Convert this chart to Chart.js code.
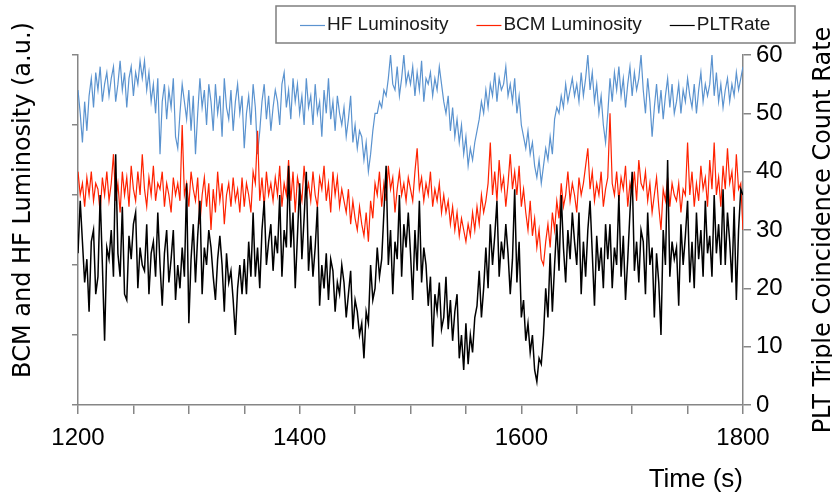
<!DOCTYPE html>
<html>
<head>
<meta charset="utf-8">
<script src="https://cdn.jsdelivr.net/npm/chart.js@4.4.0/dist/chart.umd.min.js"></script>
<style>
  html, body { margin: 0; padding: 0; background: #fff; }
  #wrap { width: 832px; height: 495px; }
</style>
</head>
<body>
<div id="wrap"><canvas id="lumiChart"></canvas></div>
<script>
// one sample every 2 s, from 1200 s to 1800 s
const startTime = 1200;
const stepTime = 2;

const hfLumi = [
  54, 50, 45, 52, 47, 53, 56, 51, 57, 54, 58, 52, 55, 57, 53,
  56, 58, 52, 55, 59, 54, 57, 51, 56, 58, 53, 57, 55, 59, 56,
  59, 54, 57, 52, 55, 50, 56, 43, 52, 55, 49, 54, 51, 56, 46,
  44, 50, 55, 52, 49, 54, 47, 53, 43, 50, 56, 51, 54, 48, 55,
  52, 47, 55, 50, 53, 46, 56, 51, 49, 54, 47, 52, 55, 50, 53,
  44, 50, 53, 48, 55, 51, 43, 47, 52, 55, 49, 53, 47, 51, 54,
  52, 48, 55, 57, 51, 54, 49, 56, 52, 55, 50, 53, 48, 56, 51,
  53, 48, 55, 50, 52, 46, 54, 50, 56, 49, 52, 47, 53, 50, 48,
  51, 46, 49, 53, 45, 48, 44, 47, 46, 42, 45, 40, 43, 47, 50,
  50, 52, 51, 54, 53, 56, 60, 55, 54, 58, 53, 56, 60, 55, 57,
  55, 58, 53, 57, 54, 59, 52, 56, 55, 57, 53, 56, 54, 58, 55,
  52, 50, 53, 47, 51, 46, 49, 45, 48, 43, 46, 41, 44, 42, 45,
  47, 49, 52, 50, 54, 51, 55, 53, 57, 52, 56, 54, 55, 58, 53,
  55, 52, 56, 50, 53, 48, 46, 44, 47, 43, 45, 41, 39, 42, 38,
  41, 44, 42, 46, 43, 49, 51, 50, 53, 51, 55, 52, 54, 56, 53,
  55, 52, 57, 53, 56, 60, 54, 57, 52, 55, 50, 53, 48, 45, 50,
  56, 52, 57, 54, 58, 53, 56, 51, 55, 58, 53, 57, 54, 56, 60,
  54, 50, 56, 52, 46, 51, 55, 50, 54, 49, 53, 56, 51, 55, 50,
  52, 55, 50, 54, 52, 56, 53, 51, 55, 50, 54, 57, 52, 55, 53,
  55, 60, 53, 57, 52, 55, 51, 54, 56, 52, 55, 53, 57, 54, 56,
  58
];

const bcmLumi = [
  40, 36, 38, 34, 39, 36, 40, 35, 38, 37, 33, 39, 36, 40, 35,
  38, 43, 35, 38, 33, 40, 36, 39, 34, 41, 37, 35, 40, 36, 43,
  37, 34, 39, 36, 41, 35, 38, 37, 40, 34, 38, 36, 33, 39, 36,
  38, 35, 48, 36, 38, 34, 40, 37, 35, 39, 31, 36, 39, 34, 38,
  30, 37, 33, 40, 35, 38, 31, 36, 38, 34, 39, 35, 37, 33, 39,
  34, 38, 36, 33, 40, 38, 47, 35, 39, 34, 40, 36, 38, 35, 39,
  36, 41, 34, 38, 36, 42, 35, 40, 33, 39, 37, 35, 41, 36, 38,
  35, 40, 36, 34, 39, 37, 41, 35, 38, 33, 40, 36, 39, 34, 37,
  35, 33, 37, 31, 35, 32, 30, 34, 31, 29, 33, 28, 35, 32, 38,
  36, 40, 34, 38, 35, 41, 37, 39, 33, 37, 40, 36, 38, 35, 39,
  37, 35, 40, 44, 37, 39, 35, 38, 36, 40, 34, 37, 35, 38, 33,
  36, 33, 35, 31, 34, 30, 33, 29, 32, 30, 28, 31, 29, 33, 30,
  34, 31, 36, 33, 35, 38, 45, 36, 40, 35, 42, 37, 39, 34, 38,
  43, 37, 40, 36, 41, 34, 37, 33, 30, 35, 29, 32, 27, 30, 25,
  24, 28, 31, 27, 33, 30, 35, 32, 38, 34, 36, 40, 35, 38, 36,
  33, 39, 36, 38, 41, 44, 37, 40, 35, 38, 36, 40, 34, 37, 39,
  50, 38, 36, 40, 35, 39, 37, 41, 34, 38, 36, 40, 35, 42, 38,
  37, 40, 35, 38, 33, 36, 39, 34, 30, 37, 35, 39, 34, 38, 36,
  35, 38, 33, 37, 36, 45, 36, 40, 34, 38, 35, 41, 37, 39, 34,
  42, 37, 45, 36, 39, 34, 41, 37, 44, 38, 40, 35, 43, 37, 38,
  30
];

const pltRate = [
  26, 35, 28, 21, 25, 16, 28, 30, 19, 22, 36, 24, 11, 27, 25,
  30, 22, 43, 26, 22, 34, 19, 18, 29, 25, 31, 33, 20, 27, 24,
  23, 31, 19, 26, 28, 22, 33, 24, 17, 26, 30, 21, 25, 30, 18,
  24, 20, 27, 22, 38, 14, 25, 31, 21, 29, 35, 19, 27, 24, 30,
  27, 22, 18, 25, 29, 24, 16, 26, 21, 23, 18, 12, 20, 24, 19,
  25, 19, 28, 22, 33, 22, 27, 20, 30, 35, 24, 28, 31, 23, 29,
  26, 36, 22, 30, 27, 41, 27, 33, 20, 29, 38, 25, 32, 40, 23,
  29, 22, 27, 34, 17, 24, 20, 26, 18, 25, 23, 16, 21, 19, 24,
  21, 15, 19, 23, 13, 18, 16, 12, 14, 8, 16, 14, 24, 18, 20,
  27, 22, 25, 33, 41, 24, 30, 19, 28, 25, 36, 22, 31, 27, 33,
  26, 18, 30, 23, 35, 21, 27, 24, 17, 22, 10, 19, 16, 21, 13,
  15, 22, 13, 18, 11, 16, 19, 8, 12, 6, 14, 7, 12, 9, 15,
  17, 23, 15, 20, 27, 20, 31, 24, 29, 35, 22, 28, 25, 31, 26,
  19, 25, 37, 21, 28, 15, 18, 11, 14, 9, 12, 6, 4, 8, 7,
  12, 20, 15, 26, 16, 24, 31, 23, 36, 27, 21, 30, 25, 33, 28,
  24, 33, 19, 28, 22, 30, 35, 26, 17, 29, 23, 27, 20, 31, 25,
  31, 20, 27, 24, 36, 22, 29, 18, 25, 33, 40, 23, 28, 21, 30,
  28, 19, 33, 24, 27, 15, 26, 21, 12, 30, 24, 42, 22, 28, 25,
  27, 17, 31, 24, 29, 35, 21, 28, 20, 33, 25, 30, 22, 35, 26,
  29, 22, 36, 26, 31, 24, 37, 24, 33, 28, 21, 34, 18, 30, 37,
  36
];

const timeLabels = [1200, 1400, 1600, 1800];

const times = hfLumi.map((_, i) => startTime + i * stepTime);
const toPoints = (values) => values.map((v, i) => ({ x: times[i], y: v }));

const axisGray = '#868686';
const labelFont = '"Liberation Sans", Arial, sans-serif';

// the two side titles both read bottom-to-top in the original
const axisTitles = {
    id: 'axisTitles',
    afterDraw(chart) {
        const ctx = chart.ctx;
        const area = chart.chartArea;
        ctx.save();
        ctx.fillStyle = '#000';
        ctx.font = '24px "DejaVu Sans", sans-serif';
        ctx.textAlign = 'center';
        ctx.textBaseline = 'middle';

        ctx.save();
        ctx.translate(24, area.top + 145);
        ctx.rotate(-Math.PI / 2);
        ctx.fillText('BCM and HF Luminosity (a.u.)', 0, 0);
        ctx.restore();

        ctx.save();
        ctx.translate(824, (area.top + area.bottom) / 2);
        ctx.rotate(-Math.PI / 2);
        ctx.fillText('PLT Triple Coincidence Count Rate', 0, 0);
        ctx.restore();

        ctx.restore();
    }
};

// boxed legend at the top right
const legendBox = {
    id: 'legendBox',
    afterDraw(chart) {
        const ctx = chart.ctx;
        ctx.save();
        ctx.strokeStyle = '#7f7f7f';
        ctx.lineWidth = 1.5;
        ctx.strokeRect(276, 6, 519, 37);

        ctx.font = '19px ' + labelFont;
        ctx.textBaseline = 'middle';
        ctx.textAlign = 'left';
        let x = 300;
        chart.data.datasets.forEach((ds) => {
            ctx.strokeStyle = ds.borderColor;
            ctx.lineWidth = 1.2;
            ctx.beginPath();
            ctx.moveTo(x, 25.5);
            ctx.lineTo(x + 25, 25.5);
            ctx.stroke();
            ctx.fillStyle = '#1a1a1a';
            ctx.fillText(ds.label, x + 27, 25);
            x += 27 + ctx.measureText(ds.label).width + 28;
        });
        ctx.restore();
    }
};

new Chart(document.getElementById('lumiChart'), {
    type: 'line',
    data: {
        datasets: [{
            label: 'HF Luminosity',
            data: toPoints(hfLumi),
            yAxisID: 'yL',
            borderColor: '#5b93cf',
            borderWidth: 1.2,
            order: 3
        }, {
            label: 'BCM Luminosity',
            data: toPoints(bcmLumi),
            yAxisID: 'yL',
            borderColor: '#ff2200',
            borderWidth: 1.2,
            order: 2
        }, {
            label: 'PLTRate',
            data: toPoints(pltRate),
            yAxisID: 'yR',
            borderColor: '#000000',
            borderWidth: 1.5,
            order: 1
        }]
    },
    options: {
        responsive: true,
        maintainAspectRatio: false,
        animation: false,
        layout: {
            padding: { top: 55, left: 0, right: 0, bottom: 0 }
        },
        elements: {
            point: { radius: 0 },
            line: { tension: 0 }
        },
        plugins: {
            legend: { display: false },
            tooltip: { enabled: false }
        },
        scales: {
            x: {
                type: 'linear',
                min: 1200,
                max: 1800,
                border: { color: axisGray, width: 1.5 },
                grid: { drawOnChartArea: false, color: axisGray, tickLength: 9, lineWidth: 1.5 },
                ticks: {
                    stepSize: 50,
                    autoSkip: false,
                    maxRotation: 0,
                    padding: 10,
                    color: '#000',
                    font: { family: labelFont, size: 24 },
                    callback: (v) => timeLabels.includes(v) ? String(v) : ''
                },
                title: {
                    display: true,
                    text: 'Time (s)',
                    align: 'end',
                    color: '#000',
                    font: { family: labelFont, size: 26 },
                    padding: { top: 0, bottom: 0 }
                },
                afterFit: (s) => { s.height = 90; }
            },
            yL: {
                position: 'left',
                min: 0,
                max: 60,
                border: { color: axisGray, width: 1.5 },
                grid: { drawOnChartArea: false, color: axisGray, tickLength: 6, lineWidth: 1.5 },
                ticks: { stepSize: 12, padding: 0, callback: () => '' },
                afterFit: (s) => { s.width = 78; }
            },
            yR: {
                position: 'right',
                min: 0,
                max: 60,
                border: { color: axisGray, width: 1.5 },
                grid: { drawOnChartArea: false, color: axisGray, tickLength: 8, lineWidth: 1.5 },
                ticks: {
                    stepSize: 10,
                    padding: 5,
                    color: '#000',
                    font: { family: labelFont, size: 24 }
                },
                afterFit: (s) => { s.width = 89; }
            }
        }
    },
    plugins: [axisTitles, legendBox]
});
</script>
</body>
</html>
